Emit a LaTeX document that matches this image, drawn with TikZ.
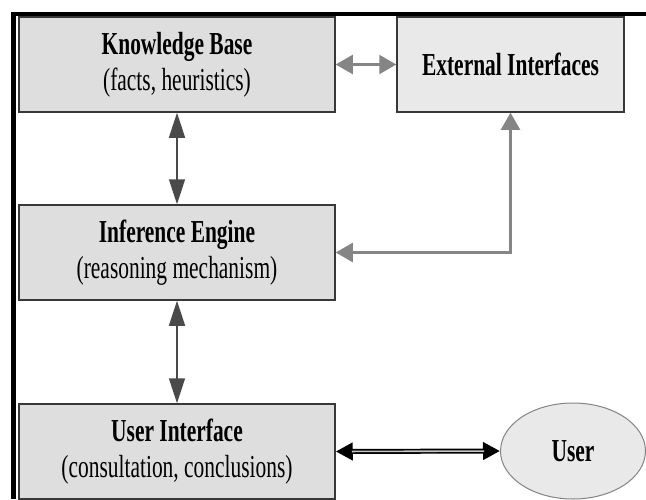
\documentclass[tikz,border=0pt]{standalone}
\usepackage{fontspec}
\setmainfont{Liberation Serif}[FakeStretch=0.67]
\usetikzlibrary{arrows.meta,shapes.geometric}
\definecolor{boxfill}{HTML}{DEDEDE}
\definecolor{boxfilltwo}{HTML}{E9E9E9}
\definecolor{boxline}{HTML}{383838}
\definecolor{darkarrow}{HTML}{4A4A4A}
\definecolor{lightarrow}{HTML}{858585}
\tikzset{
  mainbox/.style={draw=boxline, line width=1.5pt, fill=boxfill, minimum width=316pt,
    minimum height=95pt, inner sep=0pt, align=center,
    font=\fontsize{32}{36}\selectfont},
  extbox/.style={mainbox, fill=boxfilltwo, minimum width=227pt},
  userell/.style={ellipse, draw=lightarrow, line width=1pt, fill=boxfilltwo,
    minimum width=145pt, minimum height=96pt, inner sep=0pt,
    font=\fontsize{32}{36}\selectfont\bfseries},
  darklink/.style={draw=darkarrow, line width=1.6pt,
    {Triangle[length=25pt,width=16pt]}-{Triangle[length=25pt,width=16pt]}},
  lightlink/.style={draw=lightarrow, line width=2.2pt,
    {Triangle[length=17pt,width=19pt]}-{Triangle[length=17pt,width=19pt]}},
  userlink/.style={draw=black, line width=5pt,
    {Triangle[length=17pt,width=17pt]}-{Triangle[length=17pt,width=17pt]}},
  userlinkin/.style={draw=gray!45, line width=1.6pt, shorten <=16pt, shorten >=16pt},
  frame/.style={draw=black, line width=4.5pt}
}
\begin{document}
\begin{tikzpicture}[x=1pt,y=-1pt]
\useasboundingbox (0,0) rectangle (646,499);
\fill[white] (0,0) rectangle (646,499);
\draw[frame] (11,14) -- (646,14);
\draw[frame] (13.5,12) -- (13.5,499);
\node[mainbox] (kb) at (177,64.5) {\textbf{Knowledge Base}\\(facts, heuristics)};
\node[extbox] (ei) at (510.5,64.5) {\textbf{External Interfaces}};
\node[mainbox] (ie) at (177,252.5) {\textbf{Inference Engine}\\(reasoning mechanism)};
\node[mainbox] (ui) at (177,451.5) {\textbf{User Interface}\\(consultation, conclusions)};
\node[userell] (user) at (573,451) {User};
\draw[lightlink] (kb.east) -- (ei.west);
\draw[darklink] (kb.south) -- (ie.north);
\draw[darklink] (ie.south) -- (ui.north);
\draw[lightlink] (ei.south) |- (ie.east);
\draw[userlink] (ui.east) -- (user.west);
\draw[userlinkin] (ui.east) -- (user.west);
\end{tikzpicture}
\end{document}
